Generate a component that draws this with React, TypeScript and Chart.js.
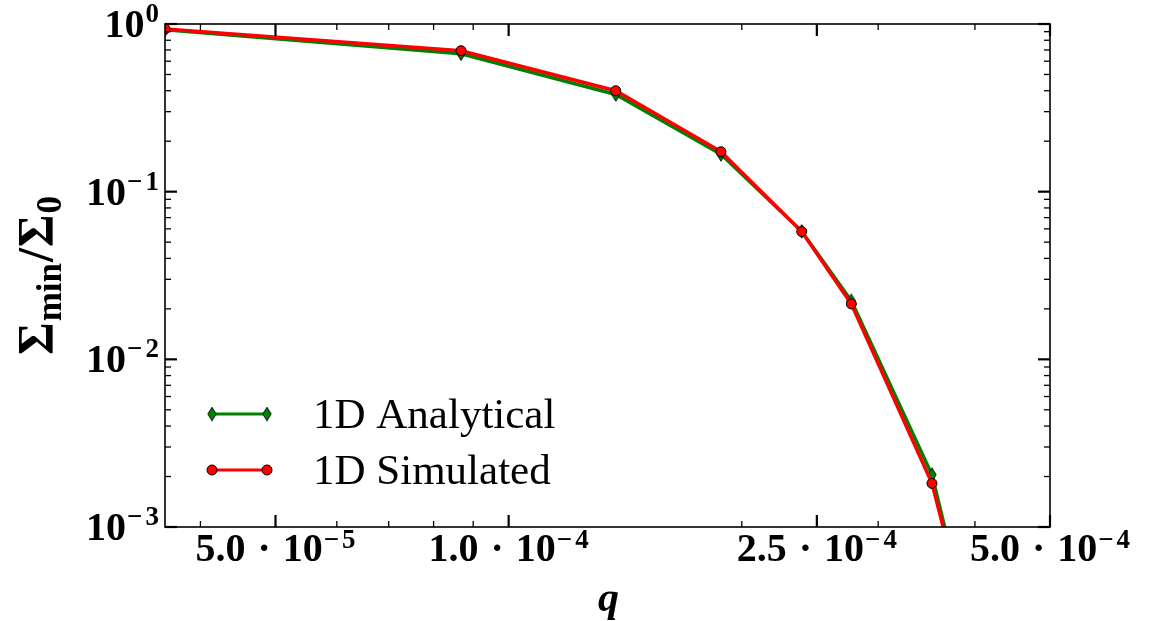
import React, { useEffect, useRef } from "react";
import { Chart, registerables } from "chart.js";

Chart.register(...registerables);

// ---- data ----
const qValues = [3.6e-5, 8.68e-5, 1.375e-4, 1.88e-4, 2.39e-4, 2.77e-4, 3.52e-4, 3.8e-4];
const analytical = [0.925, 0.665, 0.38, 0.167, 0.058, 0.0223, 0.00205, 0.00048];
const simulated = [0.934, 0.693, 0.4, 0.173, 0.0578, 0.0214, 0.00182, 0.00046];

const seriesLabels = ["1D Analytical", "1D Simulated"];

// ---- ticks ----
const xMin = 3.6e-5;
const xMax = 5e-4;
const yMin = 1e-3;
const yMax = 1;
const xMajorTicks = [5e-5, 1e-4, 2.5e-4, 5e-4];
const xTickMantissas = ["5.0", "1.0", "2.5", "5.0"];
const xTickExps = ["5", "4", "4", "4"];
const xMinorTicks = [4e-5, 6e-5, 7e-5, 8e-5, 9e-5, 2e-4, 3e-4, 4e-4];
const yMajorTicks = [1, 0.1, 0.01, 0.001];
const yTickExps = ["0", "−1", "−2", "−3"];
const yMinorTicks = [
  0.002, 0.003, 0.004, 0.005, 0.006, 0.007, 0.008, 0.009,
  0.02, 0.03, 0.04, 0.05, 0.06, 0.07, 0.08, 0.09,
  0.2, 0.3, 0.4, 0.5, 0.6, 0.7, 0.8, 0.9,
];

const GREEN = "#008000";
const RED = "#ff0000";
const SERIF = '"Liberation Serif", "DejaVu Serif", serif';

function makeDiamond(): HTMLCanvasElement {
  const c = document.createElement("canvas");
  c.width = 10;
  c.height = 15;
  const g = c.getContext("2d")!;
  g.beginPath();
  g.moveTo(5, 0.7);
  g.lineTo(9.2, 7.5);
  g.lineTo(5, 14.3);
  g.lineTo(0.8, 7.5);
  g.closePath();
  g.fillStyle = GREEN;
  g.fill();
  g.lineWidth = 0.9;
  g.strokeStyle = "#000";
  g.stroke();
  return c;
}

type Piece = { t: string; f: string; dy: number; gap: number };

function drawPieces(
  ctx: CanvasRenderingContext2D,
  pieces: Piece[],
  x: number,
  y: number,
  align: "center" | "right"
) {
  let total = 0;
  pieces.forEach((p) => {
    ctx.font = p.f;
    total += ctx.measureText(p.t).width + p.gap;
  });
  let cx = align === "center" ? x - total / 2 : x - total;
  ctx.textAlign = "left";
  ctx.textBaseline = "alphabetic";
  pieces.forEach((p) => {
    ctx.font = p.f;
    ctx.fillText(p.t, cx, y + p.dy);
    cx += ctx.measureText(p.t).width + p.gap;
  });
}

function makeDecorPlugin(diamond: HTMLCanvasElement) {
  return {
    id: "decor",
    afterDraw(chart: any) {
      const ctx: CanvasRenderingContext2D = chart.ctx;
      const { left, right, top, bottom } = chart.chartArea;
      const xs = chart.scales.x;
      const ys = chart.scales.y;
      ctx.save();
      ctx.strokeStyle = "#000";
      ctx.fillStyle = "#000";

      // frame
      ctx.lineWidth = 1.6;
      ctx.strokeRect(left, top, right - left, bottom - top);

      const tick = (x1: number, y1: number, x2: number, y2: number, w: number) => {
        ctx.lineWidth = w;
        ctx.beginPath();
        ctx.moveTo(x1, y1);
        ctx.lineTo(x2, y2);
        ctx.stroke();
      };
      xMajorTicks.forEach((v) => {
        const px = xs.getPixelForValue(v);
        tick(px, bottom, px, bottom - 12, 2.2);
        tick(px, top, px, top + 12, 2.2);
      });
      xMinorTicks.forEach((v) => {
        const px = xs.getPixelForValue(v);
        tick(px, bottom, px, bottom - 6, 1.3);
        tick(px, top, px, top + 6, 1.3);
      });
      yMajorTicks.forEach((v) => {
        const py = ys.getPixelForValue(v);
        tick(left, py, left + 12, py, 2.2);
        tick(right, py, right - 12, py, 2.2);
      });
      yMinorTicks.forEach((v) => {
        const py = ys.getPixelForValue(v);
        tick(left, py, left + 6, py, 1.3);
        tick(right, py, right - 6, py, 1.3);
      });

      // tick labels
      const bf = `bold 40px ${SERIF}`;
      const ef = `bold 27px ${SERIF}`;
      xMajorTicks.forEach((v, i) => {
        const px = xs.getPixelForValue(v);
        drawPieces(
          ctx,
          [
            { t: xTickMantissas[i], f: bf, dy: 0, gap: 12 },
            { t: "·", f: bf, dy: 0, gap: 12 },
            { t: "10", f: bf, dy: 0, gap: 1 },
            { t: "−", f: ef, dy: -13, gap: 3 },
            { t: xTickExps[i], f: ef, dy: -13, gap: 0 },
          ],
          px,
          bottom + 34,
          "center"
        );
      });
      yMajorTicks.forEach((v, i) => {
        const py = ys.getPixelForValue(v);
        const e = yTickExps[i];
        const pieces: Piece[] = [{ t: "10", f: bf, dy: 0, gap: 1 }];
        if (e.startsWith("−")) {
          pieces.push({ t: "−", f: ef, dy: -15, gap: 3 });
          pieces.push({ t: e.slice(1), f: ef, dy: -15, gap: 0 });
        } else {
          pieces.push({ t: e, f: ef, dy: -15, gap: 0 });
        }
        drawPieces(ctx, pieces, left - 6, py + 13, "right");
      });

      // x title
      ctx.font = `italic bold 42px ${SERIF}`;
      ctx.textAlign = "center";
      ctx.textBaseline = "alphabetic";
      ctx.fillText("q", (left + right) / 2 + 1, bottom + 84);

      // y title (rotated)
      ctx.save();
      ctx.translate(52, (top + bottom) / 2);
      ctx.rotate(-Math.PI / 2);
      const big = `bold 50px ${SERIF}`;
      const small = `bold 35px ${SERIF}`;
      drawPieces(
        ctx,
        [
          { t: "Σ", f: big, dy: 0, gap: 1 },
          { t: "min", f: small, dy: 9, gap: 1 },
          { t: "/", f: big, dy: 0, gap: 1 },
          { t: "Σ", f: big, dy: 0, gap: 1 },
          { t: "0", f: small, dy: 9, gap: 0 },
        ],
        0,
        0,
        "center"
      );
      ctx.restore();

      // legend
      const lx1 = left + 47;
      const lx2 = left + 102;
      const rows = [
        { y: bottom - 113, color: GREEN, label: seriesLabels[0], marker: "d" },
        { y: bottom - 57, color: RED, label: seriesLabels[1], marker: "o" },
      ];
      rows.forEach((r) => {
        ctx.strokeStyle = r.color;
        ctx.lineWidth = 3;
        ctx.beginPath();
        ctx.moveTo(lx1, r.y);
        ctx.lineTo(lx2, r.y);
        ctx.stroke();
        [lx1, lx2].forEach((mx) => {
          if (r.marker === "d") {
            ctx.drawImage(diamond, mx - diamond.width / 2, r.y - diamond.height / 2);
          } else {
            ctx.beginPath();
            ctx.arc(mx, r.y, 5, 0, Math.PI * 2);
            ctx.fillStyle = RED;
            ctx.fill();
            ctx.lineWidth = 1;
            ctx.strokeStyle = "#000";
            ctx.stroke();
          }
        });
        ctx.fillStyle = "#000";
        ctx.font = `43px ${SERIF}`;
        ctx.textAlign = "left";
        ctx.fillText(r.label, left + 148, r.y + 14);
      });

      ctx.restore();
    },
  };
}

export default function App() {
  const ref = useRef<HTMLCanvasElement | null>(null);
  useEffect(() => {
    const canvas = ref.current!;
    const diamond = makeDiamond();
    const chart: any = new Chart(canvas, {
      type: "line",
      data: {
        datasets: [
          {
            label: seriesLabels[1],
            data: qValues.map((q, i) => ({ x: q, y: simulated[i] })),
            borderColor: RED,
            backgroundColor: RED,
            borderWidth: 3.5,
            pointRadius: 5,
            pointBackgroundColor: RED,
            pointBorderColor: "#000",
            pointBorderWidth: 1,
            tension: 0,
            clip: 0,
            order: 0,
          },
          {
            label: seriesLabels[0],
            data: qValues.map((q, i) => ({ x: q, y: analytical[i] })),
            borderColor: GREEN,
            backgroundColor: GREEN,
            borderWidth: 3.5,
            pointStyle: diamond as any,
            pointRadius: 6,
            tension: 0,
            clip: 0,
            order: 1,
          },
        ],
      },
      options: {
        animation: false,
        responsive: false,
        maintainAspectRatio: false,
        layout: { padding: { left: 0, right: 107, top: 24, bottom: 0 } },
        plugins: { legend: { display: false }, tooltip: { enabled: false } },
        scales: {
          x: {
            type: "logarithmic",
            min: xMin,
            max: xMax,
            ticks: { display: false },
            grid: { display: false },
            border: { display: false },
            afterFit: (s: any) => {
              s.height = 94;
            },
          },
          y: {
            type: "logarithmic",
            min: yMin,
            max: yMax,
            ticks: { display: false },
            grid: { display: false },
            border: { display: false },
            afterFit: (s: any) => {
              s.width = 165;
            },
          },
        },
      } as any,
      plugins: [makeDecorPlugin(diamond)],
    });
    return () => chart.destroy();
  }, []);
  return (
    <div style={{ position: "fixed", left: 0, top: 0, width: 1157, height: 621, background: "#fff" }}>
      <canvas ref={ref} width={1157} height={621} style={{ display: "block" }} />
    </div>
  );
}
